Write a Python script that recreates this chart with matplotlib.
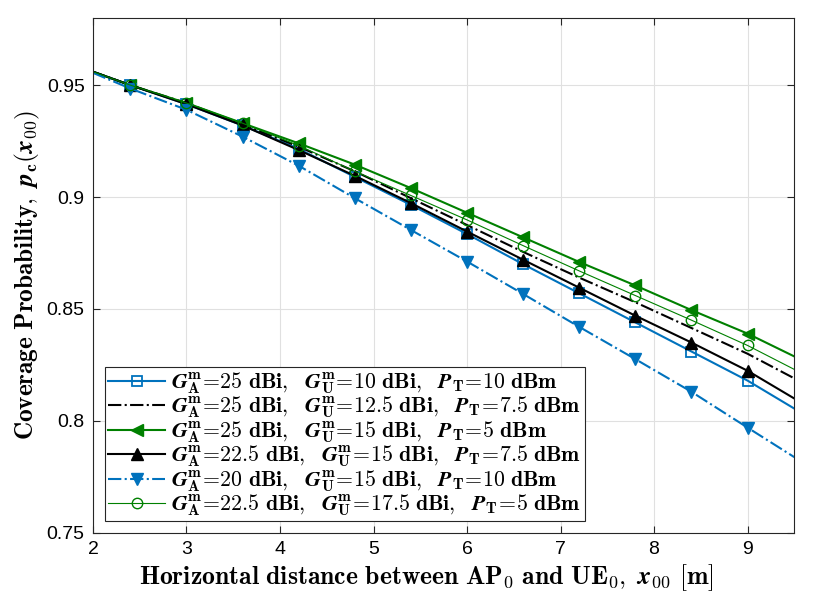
import matplotlib
matplotlib.use('Agg')
import matplotlib.pyplot as plt

plt.rcParams['font.family'] = ['Liberation Sans', 'DejaVu Sans']
plt.rcParams['mathtext.fontset'] = 'cm'

# distance samples (markers at 2.4 ... 9.0)
x = [2.0, 2.4, 3.0, 3.6, 4.2, 4.8, 5.4, 6.0, 6.6, 7.2, 7.8, 8.4, 9.0, 9.5]

pc_25_10_10 = [0.956, 0.950, 0.9415, 0.932, 0.9215, 0.909, 0.8965, 0.8835, 0.870, 0.857, 0.844, 0.831, 0.818, 0.8055]
pc_25_125_75 = [0.956, 0.950, 0.942, 0.9325, 0.9225, 0.9115, 0.8995, 0.8875, 0.8755, 0.864, 0.853, 0.8415, 0.830, 0.819]
pc_25_15_5 = [0.956, 0.950, 0.942, 0.933, 0.924, 0.9145, 0.904, 0.893, 0.882, 0.871, 0.8605, 0.8495, 0.839, 0.8288]
pc_225_15_75 = [0.956, 0.950, 0.9415, 0.932, 0.921, 0.9095, 0.8973, 0.8846, 0.872, 0.8595, 0.847, 0.835, 0.8224, 0.810]
pc_20_15_10 = [0.9555, 0.9485, 0.939, 0.927, 0.914, 0.8995, 0.8853, 0.8712, 0.8567, 0.842, 0.8276, 0.813, 0.797, 0.7838]
pc_225_175_5 = [0.956, 0.950, 0.942, 0.933, 0.923, 0.9115, 0.9007, 0.8898, 0.8783, 0.867, 0.856, 0.845, 0.8337, 0.823]

# (G_A, G_U, P_T) per curve
params = [('25', '10', '10'), ('25', '12.5', '7.5'), ('25', '15', '5'),
          ('22.5', '15', '7.5'), ('20', '15', '10'), ('22.5', '17.5', '5')]


def make_label(ga, gu, pt):
    return (r'$\mathbfit{G}_{\mathbf{A}}^{\mathbf{m}}\mathbf{\!=\!' + ga + r'\ dBi,\ \ }'
            r'\mathbfit{G}_{\mathbf{U}}^{\mathbf{m}}\mathbf{\!=\!' + gu + r'\ dBi,\ \ }'
            r'\mathbfit{P}_{\mathbf{T}}\mathbf{\!=\!' + pt + r'\ dBm}$')


labels = [make_label(*p) for p in params]

blue = '#0072BD'
green = '#008000'
mk = list(range(1, 13))

fig = plt.figure(figsize=(8.3, 6), dpi=100)
ax = fig.add_axes([0.112, 0.112, 0.845, 0.858])

ax.plot(x, pc_25_10_10, '-', color=blue, lw=1.5, marker='s', ms=7, mfc='none', mew=1.3,
        markevery=mk, label=labels[0])
ax.plot(x, pc_25_125_75, '-.', color='k', lw=1.5, label=labels[1])
ax.plot(x, pc_25_15_5, '-', color=green, lw=1.5, marker='<', ms=8, markevery=mk, label=labels[2])
ax.plot(x, pc_225_15_75, '-', color='k', lw=1.5, marker='^', ms=8, markevery=mk, label=labels[3])
ax.plot(x, pc_20_15_10, '-.', color=blue, lw=1.5, marker='v', ms=8, markevery=mk, label=labels[4])
ax.plot(x, pc_225_175_5, '-', color=green, lw=0.8, marker='o', ms=7.5, mfc='none', mew=1.0,
        markevery=mk, label=labels[5])

ax.set_xlim(2, 9.5)
ax.set_ylim(0.75, 0.98)
ax.set_xticks([2, 3, 4, 5, 6, 7, 8, 9])
ax.set_yticks([0.75, 0.8, 0.85, 0.9, 0.95])
ax.set_yticklabels(['0.75', '0.8', '0.85', '0.9', '0.95'])
ax.tick_params(direction='in', top=True, right=True, labelsize=14, length=5,
               color='#262626', width=0.8, pad=6)
ax.grid(True, color='#e0e0e0', lw=0.8)
ax.set_axisbelow(True)
for s in ax.spines.values():
    s.set_color('#262626')
    s.set_linewidth(0.8)

ax.set_xlabel(r'$\mathbf{Horizontal\ distance\ between\ AP_0\ and\ UE_0,\ }\mathbfit{x}_{\mathbf{00}}\ \mathbf{[m]}$',
              fontsize=18.5)
ax.xaxis.set_label_coords(0.475, -0.058, transform=ax.transAxes)
ax.xaxis.label.set_va('top')
ax.set_ylabel(r'$\mathbf{Coverage\ Probability,\ }\mathbfit{p}_{\mathbf{c}}(\mathbfit{x}_{\mathbf{00}})$',
              fontsize=18.2, labelpad=3)

leg = ax.legend(loc='lower left', bbox_to_anchor=(0.017, 0.022), fontsize=15.7,
                frameon=True, fancybox=False, edgecolor='#262626', framealpha=1,
                handlelength=2.6, handletextpad=0.3, labelspacing=-0.05,
                borderpad=0.15, borderaxespad=0)
leg.get_frame().set_linewidth(0.8)

fig.savefig('out.png', dpi=100)
